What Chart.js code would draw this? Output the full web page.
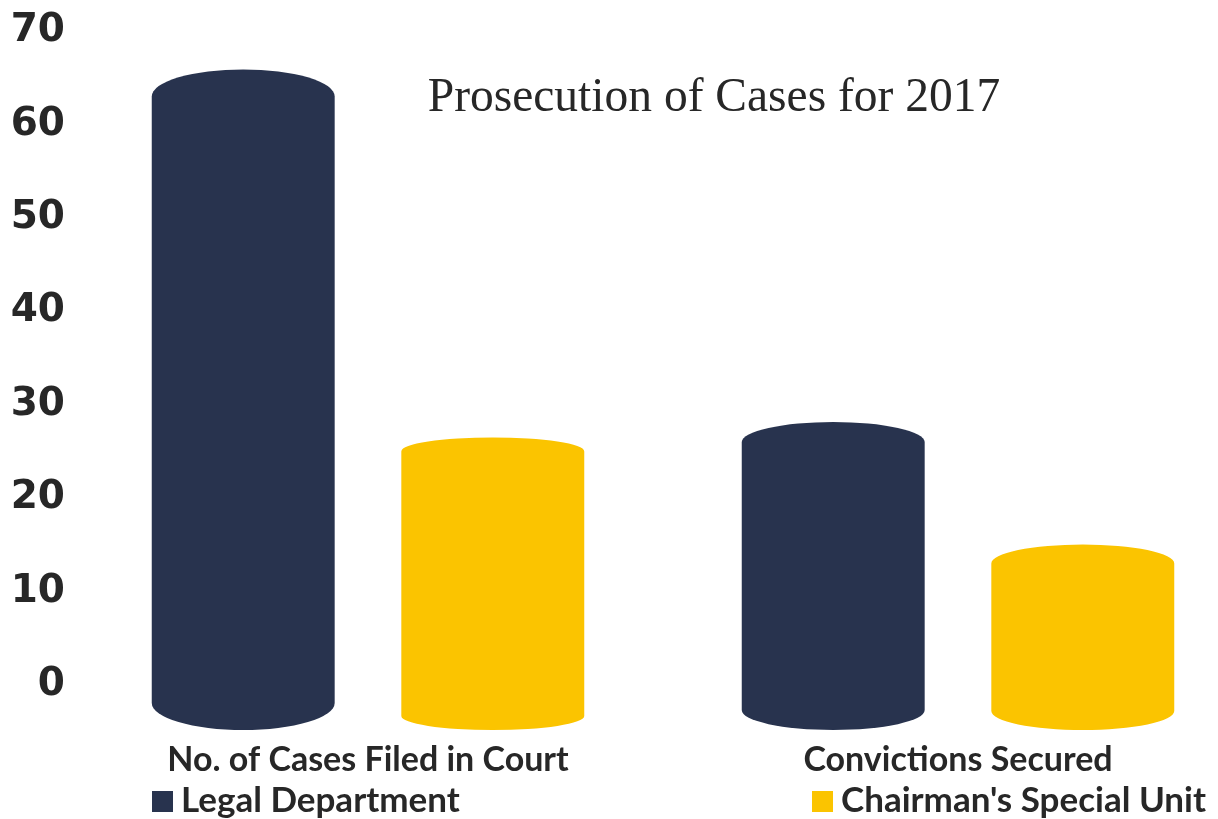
<!DOCTYPE html>
<html>
<head>
<meta charset="utf-8">
<script src="https://cdn.jsdelivr.net/npm/chart.js@4.4.1/dist/chart.umd.min.js"></script>
<style>
  html, body { margin: 0; padding: 0; background: #ffffff; overflow: hidden; }
  #wrap { width: 1270px; height: 819px; }
</style>
</head>
<body>
<div id="wrap"><canvas id="c" width="1270" height="819"></canvas></div>
<script>
// ---- data ----
const chartTitle = 'Prosecution of Cases for 2017';
const categories = ['No. of Cases Filed in Court', 'Convictions Secured'];
const seriesNames = ['Legal Department', "Chairman's Special Unit"];
const legalDepartment = [63, 26];
const chairmansSpecialUnit = [25, 13];
const yTicks = [0, 10, 20, 30, 40, 50, 60, 70];

// ---- styles ----
const NAVY = '#28334e';
const YELLOW = '#fbc400';
const TEXT = '#272727';

const cylinderPlugin = {
  id: 'cylinders',
  beforeDatasetDraw(chart, args, opts) {
    const ctx = chart.ctx;
    const meta = args.meta;
    const ds = chart.data.datasets[args.index];
    const ryList = opts.ry[args.index];
    ctx.save();
    ctx.fillStyle = ds.backgroundColor;
    meta.data.forEach((el, i) => {
      const p = el.getProps(['x', 'y', 'base', 'width'], true);
      const rx = p.width / 2;
      const left = p.x - rx, right = p.x + rx;
      const ry = ryList[i];
      const bottomCenter = p.base + opts.bottomExtent - ry;
      ctx.beginPath();
      ctx.moveTo(left, p.y);
      ctx.lineTo(left, bottomCenter);
      ctx.ellipse(p.x, bottomCenter, rx, ry, 0, Math.PI, 0, true);
      ctx.lineTo(right, p.y);
      ctx.ellipse(p.x, p.y, rx, ry, 0, 0, -Math.PI, true);
      ctx.closePath();
      ctx.fill();
    });
    ctx.restore();
    return false;
  }
};

const decorPlugin = {
  id: 'decor',
  afterDraw(chart, args, opts) {
    const ctx = chart.ctx;
    ctx.save();
    // title
    ctx.fillStyle = TEXT;
    ctx.font = opts.titleFont;
    ctx.textAlign = 'center';
    ctx.textBaseline = 'alphabetic';
    ctx.fillText(chartTitle, opts.titleX, opts.titleY);
    // legend
    ctx.font = opts.legendFont;
    ctx.textAlign = 'left';
    chart.data.datasets.forEach((ds, i) => {
      const x = opts.legendX[i];
      ctx.fillStyle = ds.backgroundColor;
      ctx.fillRect(x, opts.legendBoxTop, opts.legendBox, opts.legendBox);
      ctx.fillStyle = TEXT;
      ctx.fillText(ds.label, x + opts.legendBox + 8, opts.legendBaseline);
    });
    ctx.restore();
  }
};

new Chart(document.getElementById('c'), {
  type: 'bar',
  data: {
    labels: categories,
    datasets: [
      { label: seriesNames[0], data: legalDepartment, backgroundColor: NAVY },
      { label: seriesNames[1], data: chairmansSpecialUnit, backgroundColor: YELLOW }
    ]
  },
  options: {
    responsive: false,
    animation: false,
    layout: { padding: { left: 0, right: 17, top: 31, bottom: 0 } },
    categoryPercentage: 0.846,
    barPercentage: 0.733,
    scales: {
      x: {
        afterFit(scale) { scale.height = 134; },
        grid: { display: false },
        border: { display: false },
        ticks: {
          color: TEXT,
          padding: 47,
          font: { family: 'Lato', weight: 'bold', size: 34 },
          maxRotation: 0, autoSkip: false
        }
      },
      y: {
        min: 0, max: 70,
        afterBuildTicks(scale) { scale.ticks = yTicks.map(v => ({ value: v })); },
        afterFit(scale) { scale.width = 73; },
        grid: { display: false },
        border: { display: false },
        ticks: {
          color: TEXT,
          padding: 0,
          font: { family: 'DejaVu Sans', weight: 'bold', size: 39 }
        }
      }
    },
    plugins: {
      legend: { display: false },
      tooltip: { enabled: false },
      cylinders: { ry: [[27, 20], [14, 19]], bottomExtent: 45 },
      decor: {
        titleFont: '47.5px "Liberation Serif"',
        titleX: 714, titleY: 111,
        legendFont: 'bold 35px Lato',
        legendX: [152, 812],
        legendBox: 21, legendBoxTop: 791, legendBaseline: 812
      }
    }
  },
  plugins: [cylinderPlugin, decorPlugin]
});
</script>
</body>
</html>
